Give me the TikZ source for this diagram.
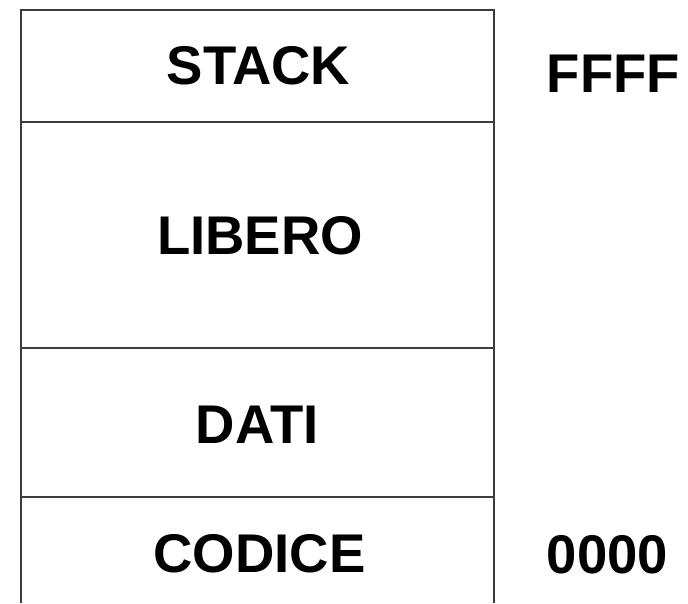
\documentclass[tikz,border=0pt]{standalone}
\usepackage{fontspec}
\setmainfont{Liberation Sans}
\definecolor{edge}{HTML}{3C3C3C}
\begin{document}
\begin{tikzpicture}[x=1pt,y=1pt,
  seg/.style={draw=edge,line width=1.6pt},
  lbl/.style={anchor=base,inner sep=0pt,font=\fontsize{54.5}{60}\selectfont\bfseries}]
\useasboundingbox (0,0) rectangle (688,603);
% frame (open at bottom)
\coordinate (tl) at (21,593);
\coordinate (tr) at (494,593);
\coordinate (bl) at (21,0);
\coordinate (br) at (494,0);
\draw[seg] (bl) -- (tl) -- (tr) -- (br);
\coordinate (l1) at (21,481); \coordinate (r1) at (494,481);
\coordinate (l2) at (21,255); \coordinate (r2) at (494,255);
\coordinate (l3) at (21,106); \coordinate (r3) at (494,106);
\draw[seg] (l1) -- (r1);
\draw[seg] (l2) -- (r2);
\draw[seg] (l3) -- (r3);
% labels
\node[lbl] (stack) at (258.5,518) {STACK};
\node[lbl] (libero) at (260,348) {LIBERO};
\node[lbl] (dati) at (257.5,160) {DATI};
\node[lbl] (codice) at (259.5,31) {CODICE};
\node[lbl] (ffff) at (613.5,510) {FFFF};
\node[lbl] (zero) at (607.5,30) {0000};
\end{tikzpicture}
\end{document}
